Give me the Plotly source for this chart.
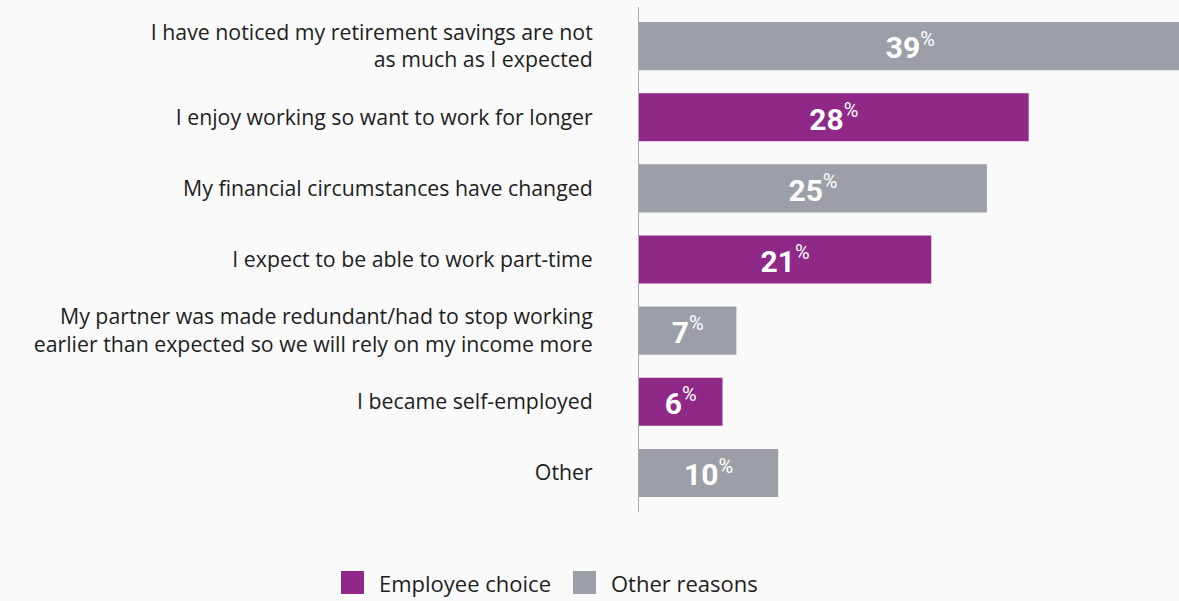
import plotly.graph_objects as go

# Reasons for working longer, share of respondents (%)
reasons = [
    "I have noticed my retirement savings are not<br>as much as I expected",
    "I enjoy working so want to work for longer",
    "My financial circumstances have changed",
    "I expect to be able to work part-time",
    "My partner was made redundant/had to stop working<br>earlier than expected so we will rely on my income more",
    "I became self-employed",
    "Other",
]
shares = [39, 28, 25, 21, 7, 6, 10]
groups = ["Other reasons", "Employee choice", "Other reasons", "Employee choice",
          "Other reasons", "Employee choice", "Other reasons"]

PURPLE = "#8f2887"
GREY = "#9d9fa8"
group_colors = {"Employee choice": PURPLE, "Other reasons": GREY}
LABEL_FONT = "Open Sans"
TICK_SIZE = 21.3
LEGEND_SIZE = 22

fig = go.Figure()
fig.add_trace(go.Bar(
    x=shares,
    y=list(range(len(reasons))),
    orientation="h",
    marker=dict(color=[group_colors[g] for g in groups], line=dict(width=0)),
    text=[f"<b>{v}</b><sup><span style='font-size:20px'>%</span></sup>" for v in shares],
    textposition="inside",
    insidetextanchor="middle",
    textangle=0,
    constraintext="none",
    textfont=dict(family="Roboto", size=30, color="white"),
    width=0.675,
    showlegend=False,
    hoverinfo="skip",
    cliponaxis=True,
))

fig.update_layout(
    width=1179, height=601,
    margin=dict(l=639, r=0, t=7, b=89),
    paper_bgcolor="#fafafa",
    plot_bgcolor="#fafafa",
    xaxis=dict(range=[0, 38.8], visible=False, fixedrange=True),
    yaxis=dict(
        range=[len(reasons) - 0.45, -0.55],
        tickmode="array",
        tickvals=list(range(len(reasons))),
        ticktext=reasons,
        showline=True, linecolor="#a9aab3", linewidth=1,
        showgrid=False, zeroline=False,
        ticks="", ticklabelstandoff=41,
        tickfont=dict(family=LABEL_FONT, size=TICK_SIZE, color="#1e1e1e"),
    ),
)

# Legend drawn as swatches with labels under the plot
plot_left, plot_w = 639, 1179 - 639
plot_bottom, plot_h = 601 - 89, 601 - 89 - 7


def px(x):
    return (x - plot_left) / plot_w


def py(y):
    return (plot_bottom - y) / plot_h


legend_items = [("Employee choice", 341, 377), ("Other reasons", 573, 609)]
for name, sx, tx in legend_items:
    fig.add_shape(type="rect", xref="paper", yref="paper",
                  x0=px(sx), x1=px(sx + 23), y0=py(571), y1=py(594),
                  fillcolor=group_colors[name], line=dict(width=0))
    fig.add_annotation(xref="paper", yref="paper", x=px(tx), y=py(583),
                       text=name, showarrow=False, xanchor="left", yanchor="middle",
                       font=dict(family=LABEL_FONT, size=LEGEND_SIZE, color="#1e1e1e"))

fig.write_html("out.html")
